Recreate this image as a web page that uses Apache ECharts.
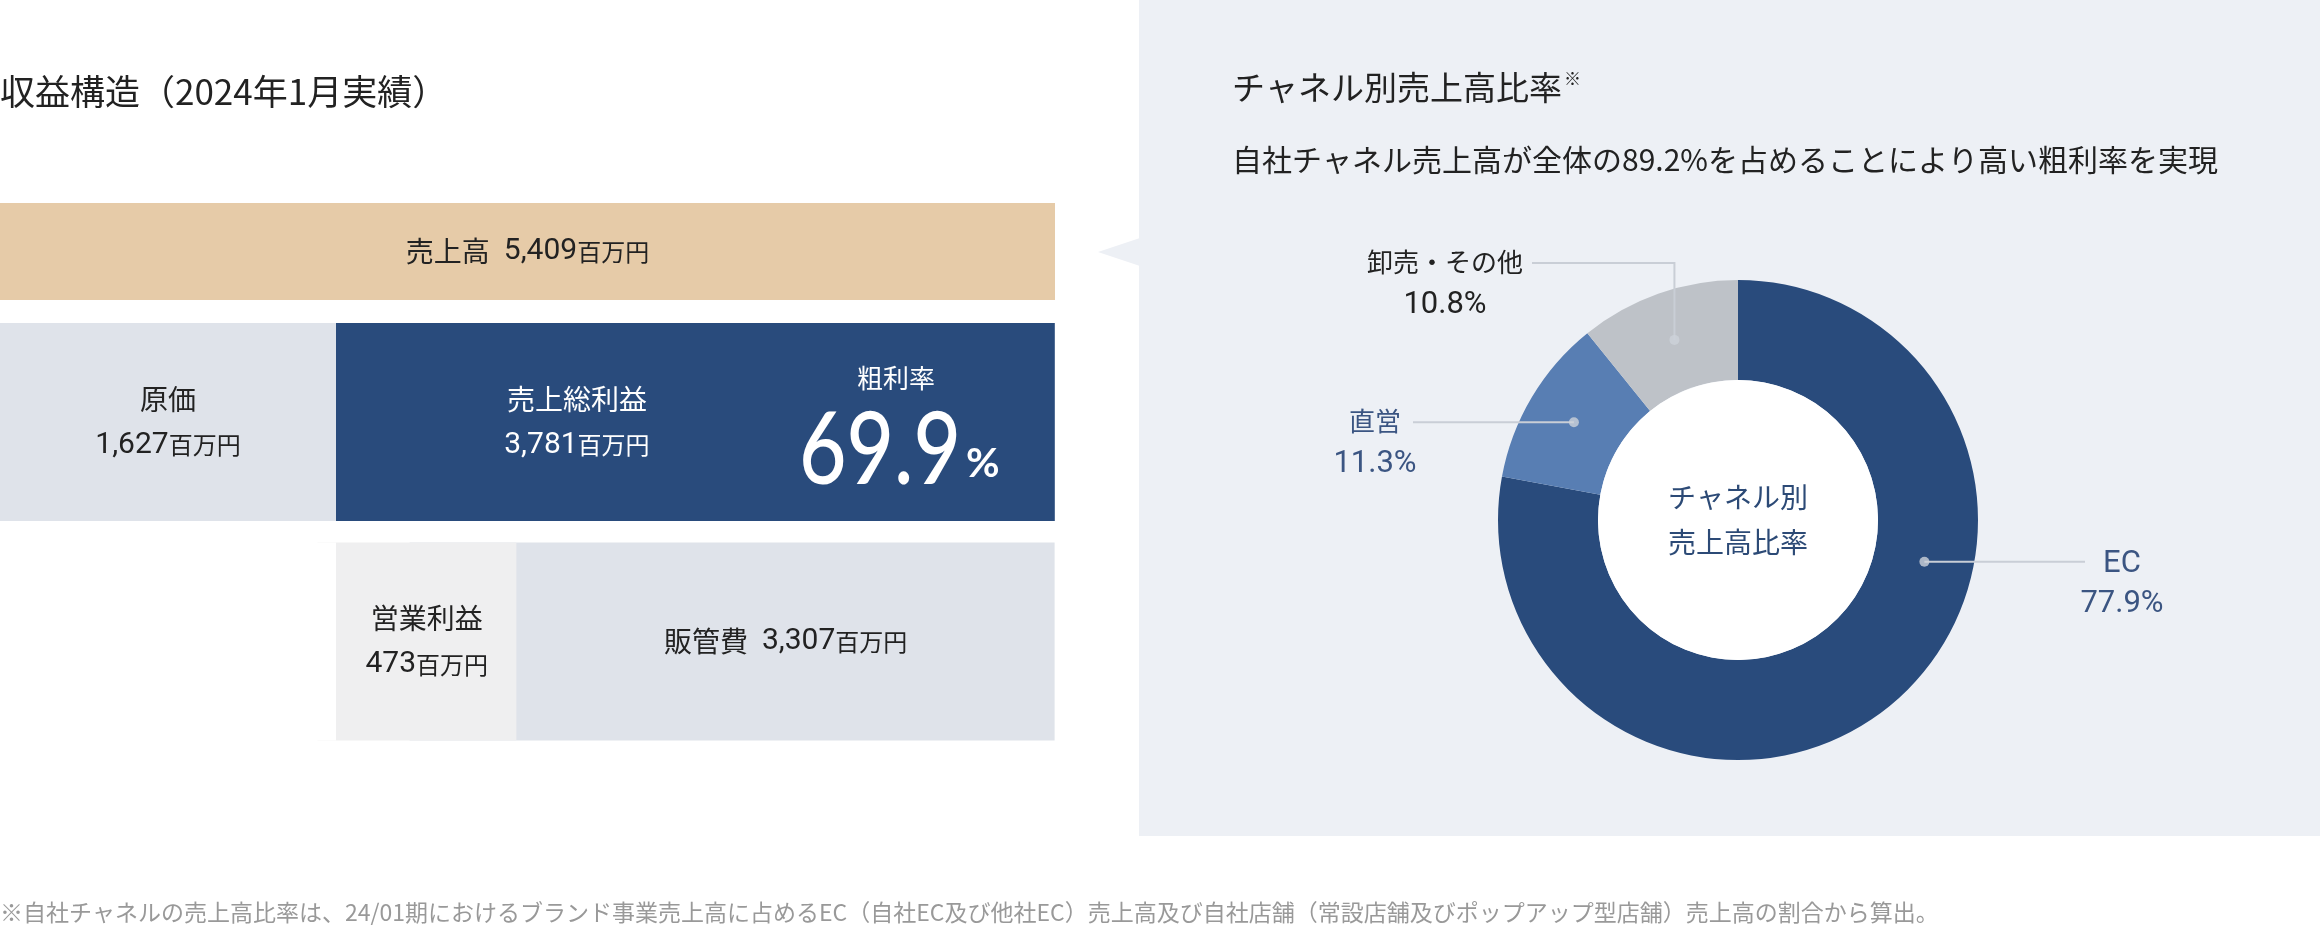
<!DOCTYPE html>
<html><head><meta charset="utf-8">
<script src="https://cdn.jsdelivr.net/npm/echarts@6/dist/echarts.min.js"></script>
<style>html,body{margin:0;padding:0;background:#fff}#c{width:2320px;height:932px}</style>
</head><body><div id="c"></div>
<script>
// ---------- data ----------
const plItems = ['売上高', '原価', '売上総利益', '営業利益', '販管費'];
const plValues = [5409, 1627, 3781, 473, 3307];
const unitLabel = '百万円';
const marginLabel = '粗利率';
const marginValue = [69.9];
const channelNames = ['EC', '直営', '卸売・その他'];
const channelShares = [77.9, 11.3, 10.8];
const centerLines = ['チャネル別', '売上高比率'];
const leftTitle = '収益構造（2024年1月実績）';
const rightTitle = 'チャネル別売上高比率';
const rightSubtitle = '自社チャネル売上高が全体の89.2%を占めることにより高い粗利率を実現';
const footnote = '※自社チャネルの売上高比率は、24/01期におけるブランド事業売上高に占めるEC（自社EC及び他社EC）売上高及び自社店舗（常設店舗及びポップアップ型店舗）売上高の割合から算出。';

// ---------- layout / style ----------
const FONT = 'Roboto, "Noto Sans CJK JP", sans-serif';
const JP = '"Noto Sans CJK JP", sans-serif';
const C = { tan: '#e6cba8', navy: '#294b7c', pale: '#dfe3ea', light: '#efeff0', mid: '#587eb3', gray: '#bec2c8', panel: '#edf0f5', text: '#222222', blueText: '#3b5582' };
const pieCenter = [1738, 520];
const pieR = [140, 240];
const anchorR = 191;
const ecAnchorPct = 28.5; // leader-line anchor inside EC slice
const pieLabelPos = [
  { x: 2122, y: 564, lineEndX: 2085, elbow: false },
  { x: 1375, y: 424, lineEndX: 1413, elbow: false },
  { x: 1445, y: 265, lineEndX: 1532, elbow: true }
];
const firstColMinPx = 336;   // design width of the first column boxes
const secondColMinPx = 199;  // design width of the operating-profit box

const fmt = v => v.toLocaleString('en-US');
const [vSales, vCogs, vGross, vOp, vSga] = plValues;

function polarPoint(pct, r) {
  const a = pct * 3.6 * Math.PI / 180;
  return [pieCenter[0] + r * Math.sin(a), pieCenter[1] - r * Math.cos(a)];
}
let cum = 0;
const anchorPct = channelShares.map(s => { const m = cum + s / 2; cum += s; return m; });
anchorPct[0] = ecAnchorPct;

const boxRich = (color) => ({
  t: { fontSize: 28, lineHeight: 46, color, fontFamily: JP },
  v: { fontSize: 30, lineHeight: 46, color, fontFamily: FONT },
  u: { fontSize: 24, lineHeight: 46, color, fontFamily: JP },
  s: { fontSize: 28, lineHeight: 46, color, fontFamily: FONT, width: 14 }
});
const twoLine = (name, v) => `{t|${name}}\n{v|${fmt(v)}}{u|${unitLabel}}`;
const oneLine = (name, v) => `{t|${name}}{s| }{v|${fmt(v)}}{u|${unitLabel}}`;

const pieData = (withStyle) => channelNames.map((n, i) => ({
  name: n, value: channelShares[i],
  itemStyle: { color: withStyle ? [C.navy, C.mid, C.gray][i] : 'rgba(0,0,0,0)' },
  label: { rich: {
    n: { fontFamily: FONT, fontSize: i === 0 ? 31 : 26, lineHeight: 40, color: i === 2 ? C.text : C.blueText, align: 'center' },
    p: { fontFamily: FONT, fontSize: 31, lineHeight: 40, color: i === 2 ? C.text : C.blueText, align: 'center' }
  } }
}));

const chart = echarts.init(document.getElementById('c'));
chart.setOption({
  backgroundColor: '#ffffff',
  animation: false,
  title: [
    { text: leftTitle, left: 0, top: 74, padding: 0, textStyle: { fontFamily: JP, fontSize: 35, lineHeight: 36, fontWeight: 'normal', color: C.text } },
    { text: rightTitle + '{s|※}', left: 1232, top: 70, padding: 0, textStyle: { fontFamily: JP, fontSize: 33, lineHeight: 35, fontWeight: 'normal', color: C.text, rich: { s: { fontSize: 17, verticalAlign: 'top', lineHeight: 35, color: C.text, padding: [0, 0, 14, 2] } } } },
    { text: rightSubtitle, left: 1232, top: 145, padding: 0, textStyle: { fontFamily: JP, fontSize: 30, lineHeight: 30, fontWeight: 'normal', color: C.text } },
    { text: footnote, left: 0, top: 901, padding: 0, textStyle: { fontFamily: JP, fontSize: 23, lineHeight: 23, fontWeight: 'normal', color: '#999999' } }
  ],
  grid: [
    { left: 0, top: 203, width: 1055, height: 97, containLabel: false },
    { left: 0, top: 312.25, width: 1055, height: 439, containLabel: false }
  ],
  xAxis: [
    { gridIndex: 0, type: 'value', min: 0, max: vSales, show: false },
    { gridIndex: 1, type: 'value', min: 0, max: vSales, show: false }
  ],
  yAxis: [
    { gridIndex: 0, type: 'category', data: [plItems[0]], show: false },
    { gridIndex: 1, type: 'category', data: ['row2', 'row3'], inverse: true, show: false }
  ],
  polar: { center: pieCenter, radius: pieR[1] },
  angleAxis: { type: 'value', min: 0, max: 100, startAngle: 90, clockwise: true, show: false },
  radiusAxis: { type: 'value', min: 0, max: pieR[1], show: false },
  series: [
    { // 売上高
      type: 'bar', xAxisIndex: 0, yAxisIndex: 0, barWidth: 97, silent: true,
      data: [{ value: vSales, itemStyle: { color: C.tan } }],
      label: { show: true, position: 'inside', formatter: () => oneLine(plItems[0], vSales), rich: boxRich(C.text) }
    },
    { // first segment: 原価 / (blank spacer under it)
      type: 'bar', xAxisIndex: 1, yAxisIndex: 1, stack: 'pl', barWidth: 198, barMinHeight: firstColMinPx, silent: true, z: 5,
      data: [
        { value: vCogs, itemStyle: { color: C.pale },
          label: { show: true, position: ['50%', '50%'], align: 'center', verticalAlign: 'middle', formatter: () => twoLine(plItems[1], vCogs), rich: boxRich(C.text) } },
        { value: vCogs, itemStyle: { color: '#ffffff' }, label: { show: false } }
      ]
    },
    { // second segment: 売上総利益 / 営業利益
      type: 'bar', xAxisIndex: 1, yAxisIndex: 1, stack: 'pl', barWidth: 198, barMinHeight: secondColMinPx, silent: true, z: 4,
      data: [
        { value: vGross, itemStyle: { color: C.navy },
          label: { show: true, position: ['35.2%', '50%'], align: 'center', verticalAlign: 'middle', formatter: () => twoLine(plItems[2], vGross), rich: boxRich('#ffffff') } },
        { value: vOp, itemStyle: { color: C.light },
          label: { show: true, position: ['55%', '50%'], align: 'center', verticalAlign: 'middle', formatter: () => twoLine(plItems[3], vOp), rich: boxRich(C.text) } }
      ]
    },
    { // third segment: 販管費
      type: 'bar', xAxisIndex: 1, yAxisIndex: 1, stack: 'pl', barWidth: 198, silent: true, z: 3,
      data: [
        { value: null },
        { value: vSga, itemStyle: { color: C.pale },
          label: { show: true, position: ['58.3%', '50%'], align: 'center', verticalAlign: 'middle', formatter: () => oneLine(plItems[4], vSga), rich: boxRich(C.text) } }
      ]
    },
    { // donut
      type: 'pie', center: pieCenter, radius: pieR, startAngle: 90, clockwise: true,
      silent: true, z: 3, itemStyle: { borderWidth: 0 },
      data: pieData(true),
      label: { show: false }, labelLine: { show: false }
    },
    { // transparent overlay carrying labels + leader lines above the donut
      type: 'pie', center: pieCenter, radius: pieR, startAngle: 90, clockwise: true,
      avoidLabelOverlap: false, silent: true, z: 6, itemStyle: { borderWidth: 0 },
      data: pieData(false),
      label: { show: true, position: 'outside', formatter: p => `{n|${p.name}}\n{p|${p.value.toFixed(1)}%}` },
      labelLine: { show: true, length: 10, length2: 10, smooth: false, lineStyle: { color: '#c9ced6', width: 2 } },
      labelLayout: function (p) {
        const i = p.dataIndex, L = pieLabelPos[i];
        const a = polarPoint(anchorPct[i], anchorR);
        const pts = L.elbow ? [a, [a[0], L.y - 2], [L.lineEndX, L.y - 2]] : [a, [L.lineEndX, a[1]]];
        return { x: L.x, y: L.y - 20, align: 'center', verticalAlign: 'top', labelLinePoints: pts };
      }
    },
    { // white center with caption
      type: 'pie', center: pieCenter, radius: [0, pieR[0]], silent: true, z: 3,
      data: [{ value: 1, name: centerLines.join('\n'), itemStyle: { color: '#ffffff' } }],
      label: { show: true, position: 'center', formatter: () => centerLines.join('\n'), fontFamily: JP, fontSize: 28, lineHeight: 45, color: '#2c4a76' },
      labelLine: { show: false }
    },
    { // leader-line anchor dots
      type: 'scatter', coordinateSystem: 'polar', silent: true, z: 10,
      symbol: 'circle', symbolSize: 10,
      itemStyle: { color: '#cdd2da' },
      data: anchorPct.map(a => [anchorR, a])
    }
  ],
  graphic: { elements: [
    { type: 'rect', z: -10, silent: true, shape: { x: 1139, y: 0, width: 1181, height: 836 }, style: { fill: C.panel } },
    { type: 'polygon', z: -10, silent: true, shape: { points: [[1098, 252], [1140, 238], [1140, 266]] }, style: { fill: C.panel } },
    { type: 'text', z: 100, silent: true, x: 896, y: 378, style: { text: marginLabel, fill: '#ffffff', font: '26px ' + JP, textAlign: 'center', textVerticalAlign: 'middle' } },
    { type: 'text', z: 100, silent: true, x: 799, y: 452, scaleX: 0.82, style: { text: marginValue[0].toFixed(1), fill: '#ffffff', font: '500 100px Lato', textAlign: 'left', textVerticalAlign: 'middle' } },
    { type: 'text', z: 100, silent: true, x: 966, y: 464, style: { text: '%', fill: '#ffffff', font: 'bold 41px Lato', textAlign: 'left', textVerticalAlign: 'middle' } }
  ] }
});
</script></body></html>
